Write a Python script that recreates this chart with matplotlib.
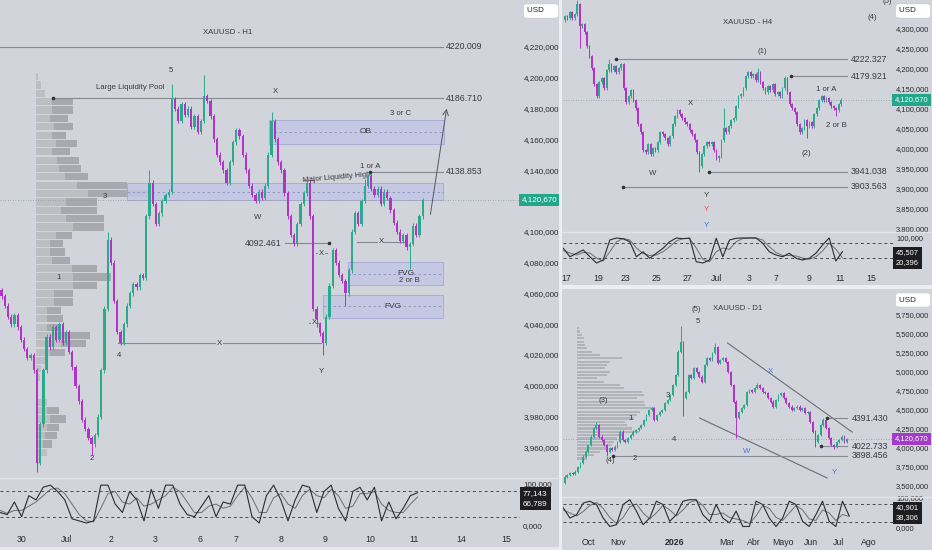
#!/usr/bin/env python3
# XAUUSD multi timeframe snapshot (H1 / H4 / D1)

import numpy as np
import matplotlib.pyplot as plt
from matplotlib.patches import Rectangle

W, H = 932, 550
BG = '#d1d4da'
BULL = '#2aa98c'
BEAR = '#b034c8'
INK = '#3a3a3e'
LINE = '#858a90'

plt.rcParams['font.family'] = ['Liberation Sans', 'DejaVu Sans']

# ---------------- data ----------------
last_price = 4120.67

# H1 closes
h1_close = [4058, 4052, 4045, 4040, 4046, 4038, 4030, 4024, 4018, 4020,
            4010, 3950, 3975, 4010, 4032, 4025, 4038, 4030, 4040, 4028,
            4035, 4022, 4012, 4000, 3990, 3978, 3972, 3966, 3962, 3968,
            3980, 4010, 4050, 4095, 4080, 4055, 4035, 4028, 4040, 4052,
            4060, 4066, 4064, 4072, 4070, 4110, 4132, 4118, 4105, 4112,
            4120, 4124, 4126, 4186, 4180, 4172, 4183, 4176, 4180, 4168,
            4175, 4165, 4172, 4188, 4185, 4175, 4160, 4150, 4145, 4140,
            4132, 4145, 4158, 4166, 4162, 4150, 4140, 4130, 4124, 4120,
            4126, 4122, 4130, 4150, 4172, 4160, 4145, 4140, 4125, 4110,
            4098, 4092, 4105, 4118, 4125, 4132, 4110, 4050, 4040, 4034,
            4028, 4045, 4065, 4088, 4080, 4072, 4068, 4060, 4075, 4100,
            4112, 4105, 4120, 4130, 4136, 4128, 4124, 4128, 4118, 4126,
            4122, 4114, 4106, 4100, 4094, 4098, 4090, 4092, 4104, 4098,
            4110, 4120.67]
h1_first_open = 4062
h1_highs = {33: 4100, 46: 4140, 53: 4196, 63: 4202, 84: 4178, 113: 4134}
h1_lows = {11: 3944, 28: 3955, 100: 4020, 107: 4052, 127: 4076}

# H1 volume profile: total row length and light part (px)
h1_vp_total = [2, 5, 9, 37, 37, 32, 37, 30, 41, 34, 43, 45, 52, 91, 112, 61,
               61, 68, 68, 36, 27, 29, 34, 61, 75, 61, 37, 37, 25, 27, 25, 54,
               50, 29, 11, 5, 4, 2, 2, 11, 23, 30, 23, 21, 16, 11, 4]
h1_vp_light = [2, 5, 9, 16, 16, 14, 18, 16, 20, 16, 21, 23, 29, 41, 52, 30,
               25, 30, 37, 20, 14, 14, 16, 36, 37, 37, 18, 18, 11, 11, 11, 27,
               25, 14, 11, 5, 4, 2, 2, 11, 11, 14, 11, 9, 7, 11, 4]

h1_stoch_k = [30, 25, 55, 20, 70, 60, 90, 95, 80, 60, 15, 10, 5, 10, 95, 95, 50, 30, 80, 60,
              10, 85, 40, 95, 95, 50, 25, 20, 45, 70, 20, 55, 50, 95, 95, 20, 5, 70, 95, 60,
              10, 60, 95, 90, 30, 80, 95, 40, 10, 80, 90, 60, 90, 10, 55, 15, 40, 70, 77.143]
h1_stoch_d = [35, 28, 35, 35, 45, 55, 70, 85, 88, 75, 50, 25, 10, 8, 40, 75, 80, 55, 50, 65,
              45, 50, 60, 70, 90, 80, 55, 30, 30, 45, 50, 40, 45, 70, 90, 65, 30, 30, 65, 75,
              50, 40, 70, 85, 70, 65, 85, 70, 40, 45, 75, 75, 80, 50, 35, 30, 30, 50, 66.789]

h1_price_ticks = [4220, 4200, 4180, 4160, 4140, 4100, 4080, 4060, 4040, 4020, 4000, 3980, 3960]
h1_dates = ['30', 'Jul', '2', '3', '6', '7', '8', '9', '10', '11', '14', '15']
h1_levels = [4220.009, 4186.710, 4138.853]

# H4
h4_close = [4330, 4325, 4340, 4325, 4335, 4360, 4305, 4310, 4290, 4255,
            4230, 4200, 4160, 4130, 4165, 4175, 4150, 4195, 4210, 4195,
            4205, 4190, 4200, 4210, 4150, 4115, 4130, 4145, 4120, 4100,
            4060, 4040, 3995, 3990, 4010, 3985, 4000, 3995, 4015, 4040,
            4035, 4025, 4010, 4030, 4060, 4080, 4095, 4085, 4075, 4065,
            4060, 4045, 4035, 4020, 3990, 3955, 3985, 4005, 4015, 4010,
            4015, 3995, 3975, 3980, 4020, 4050, 4040, 4055, 4070, 4075,
            4105, 4130, 4135, 4150, 4180, 4190, 4180, 4185, 4170, 4190,
            4165, 4150, 4140, 4155, 4145, 4160, 4135, 4140, 4130, 4150,
            4175, 4140, 4110, 4100, 4090, 4060, 4040, 4050, 4070, 4055,
            4065, 4055, 4085, 4100, 4120, 4130, 4120, 4125, 4115, 4105,
            4100, 4095, 4110, 4120.67]
h4_first_open = 4320
h4_highs = {5: 4372, 18: 4222, 65: 4100, 79: 4200, 90: 4180}
h4_lows = {6: 4250, 55: 3941, 63: 3965, 99: 4025, 111: 4080}

h4_stoch_k = [59, 25, 39, 52, 25, 0, 12, 92, 100, 97, 85, 25, 45, 19, 39, 59, 85, 100, 97, 100,
              5, 0, 12, 99, 25, 92, 99, 100, 100, 100, 79, 45, 32, 25, 39, 19, 12, 19, 39, 72,
              100, 8, 45.507]
h4_stoch_d = [50, 40, 32, 42, 40, 20, 8, 45, 85, 98, 92, 60, 38, 30, 32, 45, 65, 88, 98, 98,
              60, 15, 5, 45, 60, 55, 85, 98, 100, 100, 92, 65, 42, 30, 30, 28, 20, 15, 25, 48,
              80, 55, 20.396]

h4_price_ticks = [4300, 4250, 4200, 4150, 4100, 4050, 4000, 3950, 3900, 3850, 3800]
h4_dates = ['17', '19', '23', '25', '27', 'Jul', '3', '7', '9', '11', '15']
h4_levels = [4222.327, 4179.921, 3941.038, 3903.563]

# D1
d1_close = [3535, 3623, 3645, 3667, 3653, 3689, 3754, 3798, 3886, 3952,
            4040, 4150, 4259, 4303, 4150, 4105, 4040, 3952, 3996, 3974,
            4018, 4083, 4215, 4105, 4083, 4127, 4171, 4215, 4237, 4259,
            4303, 4368, 4434, 4500, 4522, 4368, 4434, 4478, 4500, 4588,
            4632, 4697, 4829, 4961, 5268, 5399, 4653, 4741, 4961, 4917,
            5048, 5004, 4939, 4873, 5092, 5180, 5158, 5246, 5333, 5114,
            5158, 5180, 5136, 5004, 4829, 4610, 4390, 4478, 4522, 4566,
            4741, 4763, 4741, 4785, 4829, 4785, 4741, 4719, 4653, 4610,
            4544, 4632, 4697, 4719, 4653, 4588, 4544, 4500, 4522, 4544,
            4500, 4522, 4456, 4478, 4346, 4215, 4083, 4171, 4303, 4368,
            4259, 4127, 4040, 4018, 4083, 4105, 4150, 4083, 4120.67]
d1_first_open = 3500
d1_highs = {13: 4340, 45: 5600, 58: 5377, 74: 4860, 99: 4391}
d1_lows = {17: 3899, 46: 4420, 66: 4127, 96: 4018, 103: 3985}

d1_vp = [2, 3, 5, 7, 7, 8, 10, 15, 23, 45, 33, 30, 28, 33, 30, 20, 27, 43, 47, 65,
         67, 60, 67, 68, 78, 63, 60, 57, 48, 50, 55, 62, 47, 40, 37, 35, 30, 23, 17, 10]

d1_stoch_k = [67, 33, 44, 83, 89, 78, 33, 5, 11, 78, 94, 56, 11, 33, 89, 78, 22, 44, 89, 94,
              94, 44, 22, 78, 33, 17, 56, 5, 5, 89, 78, 33, 5, 33, 89, 78, 22, 5, 44, 89,
              22, 5, 89, 40.901]
d1_stoch_d = [60, 50, 40, 55, 75, 85, 65, 35, 15, 35, 70, 80, 50, 30, 50, 75, 60, 40, 60, 85,
              92, 75, 45, 45, 50, 35, 30, 25, 15, 40, 75, 65, 35, 25, 50, 75, 60, 30, 25, 60,
              50, 25, 45, 38.306]

d1_price_ticks = [5750, 5500, 5250, 5000, 4750, 4500, 4250, 4000, 3750, 3500]
d1_dates = ['Oct', 'Nov', '2026', 'Mar', 'Abr', 'Mayo', 'Jun', 'Jul', 'Ago']
d1_levels = [3898.456, 4022.733, 4391.430]


fig = plt.figure(figsize=(W / 100, H / 100), dpi=100, facecolor=BG)


def px_axes(x0, y0, x1, y1):
    ax = fig.add_axes([x0 / W, 1 - y1 / H, (x1 - x0) / W, (y1 - y0) / H])
    ax.set_facecolor(BG)
    for s in ax.spines.values():
        s.set_visible(False)
    ax.set_xlim(x0, x1)
    return ax


def fmt_price(v):
    return f"{v:,.3f}".replace('.', ',')


def draw_candles(ax, closes, x0, step, pad, highs, lows, first_open):
    opens = [first_open] + closes[:-1]
    xs = x0 + step * np.arange(len(closes))
    for i, (x, o, c) in enumerate(zip(xs, opens, closes)):
        col = BULL if c >= o else BEAR
        hi = highs.get(i, max(o, c) + pad)
        lo = lows.get(i, min(o, c) - pad)
        ax.vlines(x, lo, hi, color=col, lw=0.7, zorder=4)
        ax.bar(x, max(abs(c - o), pad * 0.6), bottom=min(o, c), width=step * 0.7,
               color=col, zorder=4, linewidth=0)


def price_axis(ax, ticks, pad, size):
    ax.yaxis.tick_right()
    ax.set_yticks(ticks)
    ax.set_yticklabels([fmt_price(v) for v in ticks])
    ax.tick_params(axis='y', length=0, pad=pad, labelsize=size, labelcolor='#2a2a2e')
    ax.set_xticks([])


def last_tag(ax, color, pad, size):
    ax.axhline(last_price, color='#8c9a9a', lw=0.6, ls=(0, (1, 2)), zorder=2)
    ax.annotate(fmt_price(last_price), xy=(1, last_price), xycoords=('axes fraction', 'data'),
                xytext=(pad, 0), textcoords='offset points', ha='left', va='center',
                fontsize=size, color='white', annotation_clip=False, zorder=10,
                bbox=dict(boxstyle='square,pad=0.35', fc=color, ec='none'))


def stoch_pane(ax, k, d, x0, step, ylim, dates, date_pos, shown, val_box, pad, size):
    xs = x0 + step * np.arange(len(k))
    ax.plot(xs, d, color='#6e6e72', lw=0.7)
    ax.plot(xs, k, color='#2c2c30', lw=0.8)
    for lvl in (80, 20):
        ax.axhline(lvl, color='#4a4a4e', lw=0.7, ls=(0, (3, 3)))
    ax.set_ylim(*ylim)
    ax.yaxis.tick_right()
    ax.set_yticks(shown)
    ax.set_yticklabels([fmt_price(v) for v in shown])
    ax.tick_params(axis='y', length=0, pad=pad, labelsize=size, labelcolor='#2a2a2e')
    ax.set_xticks(date_pos)
    ax.set_xticklabels(dates)
    ax.tick_params(axis='x', length=0, pad=3, labelsize=6.3, labelcolor='#2a2a2e')
    ax.annotate(fmt_price(k[-1]) + '\n' + fmt_price(d[-1]), xy=(1, val_box),
                xycoords=('axes fraction', 'data'), xytext=(pad, 0), textcoords='offset points',
                ha='left', va='center', fontsize=size, color='white', linespacing=1.6,
                annotation_clip=False, zorder=10,
                bbox=dict(boxstyle='square,pad=0.35', fc='#1e1e22', ec='none'))


def level(ax, x_start, y, x_end, label=None, dot=True, lx=None):
    ax.plot([x_start, x_end], [y, y], color=LINE, lw=0.8, zorder=3)
    if dot:
        ax.plot(x_start, y, 'o', ms=1.6, color='#333', zorder=5)
    if label:
        ax.text(lx, y, label, fontsize=6.3, color=INK, va='center', ha='left', zorder=5)


def zone(ax, x0, y0, x1, y1, label=None):
    ax.add_patch(Rectangle((x0, y0), x1 - x0, y1 - y0, fc='#c3c6e4', ec='#a3a7d4',
                           lw=0.7, alpha=0.85, zorder=2))
    ym = (y0 + y1) / 2
    ax.plot([x0, x1], [ym, ym], color='#8e93bf', lw=0.6, ls=(0, (3, 3)), zorder=3)
    if label:
        ax.text((x0 + x1) / 2 + 10, ym, label, fontsize=6, color=INK, ha='center',
                va='center', zorder=5)


def wave_text(ax, x, y, s, color=INK, size=5.6, **kw):
    ax.text(x, y, s, fontsize=size, color=color, ha='center', va='center', zorder=6, **kw)


def usd_box(x, y):
    fig.text(x / W, 1 - y / H, 'USD     ', fontsize=5.8, color='#222', ha='left', va='center',
             bbox=dict(boxstyle='round,pad=0.45', fc='white', ec='#c8cad0', lw=0.5))


def crossed(ax, x0, x1, y, s='X'):
    ax.plot([x0, x1], [y, y], color=LINE, lw=0.8, zorder=3)
    ax.text((x0 + x1) / 2, y, s, fontsize=5.6, color=INK, ha='center', va='center', zorder=6,
            bbox=dict(boxstyle='square,pad=0.1', fc=BG, ec='none'))


# ---------------- H1 (left) ----------------
ax1 = px_axes(0, 0, 520, 477)
ax1.set_ylim(3940.8, 4250.5)
price_axis(ax1, h1_price_ticks, pad=3, size=5.8)

rows = 4200.7 - 5.42 * np.arange(len(h1_vp_total))
ax1.barh(rows, h1_vp_total, left=35.7, height=4.7, color='#a8a9ae', zorder=1)
ax1.barh(rows, h1_vp_light, left=35.7, height=4.7, color='#bdbec2', zorder=1)

zone(ax1, 268.6, 4157, 443.6, 4172.6, 'OB')
zone(ax1, 127, 4120.6, 443, 4131.7)
zone(ax1, 348, 4065.4, 443, 4080.4, 'FVG')
zone(ax1, 323, 4044, 443, 4059, 'FVG')

level(ax1, 0, h1_levels[0], 443, '4220.009', dot=False, lx=446)
level(ax1, 53, h1_levels[1], 443, '4186.710', lx=446)
level(ax1, 370, h1_levels[2], 443, '4138.853', lx=446)
level(ax1, 329, 4092.461, 285)
ax1.text(282, 4092.461, '4092.461', fontsize=6.3, color=INK, ha='right', va='center')
ax1.plot([303, 314], [4133.6, 4133.6], color=LINE, lw=0.8)
crossed(ax1, 316, 327, 4086.2)
crossed(ax1, 357, 405, 4093.4)
crossed(ax1, 309, 319, 4040.8)
crossed(ax1, 118, 321, 4027.8)

draw_candles(ax1, h1_close, 1.6, 3.214, 1.5, h1_highs, h1_lows, h1_first_open)
last_tag(ax1, '#22a78b', pad=1.5, size=5.8)

for x, y, s in [(228, 4229.1, 'XAUUSD - H1'), (130, 4193.4, 'Large Liquidity Pool'),
                (275, 4190.8, 'X'), (171, 4205, '5'), (401, 4177.1, '3 or C'),
                (370, 4142.7, '1 or A'), (258, 4109.6, 'W'), (409, 4068.3, '2 or B'),
                (118.6, 4020, '4'), (321, 4009, 'Y'), (92, 3953, '2'), (59, 4070.6, '1'),
                (105, 4122.6, '3')]:
    wave_text(ax1, x, y, s)
wave_text(ax1, 337, 4135.5, 'Major Liquidity High', rotation=5)
ax1.annotate('', xy=(447, 4181.7), xytext=(430, 4109.6),
             arrowprops=dict(arrowstyle='->', color='#55585e', lw=0.7), zorder=6)

ax1s = px_axes(0, 478, 520, 531)
stoch_pane(ax1s, h1_stoch_k, h1_stoch_d, 0, 7.2, (-14, 112), h1_dates,
           [22, 67, 111, 155, 200, 236, 281, 325, 370, 414, 461, 506], [0, 100], 63,
           pad=2.2, size=5.8)

# ---------------- H4 (top right) ----------------
ax2 = px_axes(563, 0, 894, 231)
ax2.set_xlim(563, 895)
ax2.set_ylim(3793, 4370.75)
price_axis(ax2, h4_price_ticks, pad=1.5, size=5.4)
for x0, y in zip([616, 792, 709, 623], h4_levels):
    level(ax2, x0, y, 848, f"{y:.3f}", lx=852)
draw_candles(ax2, h4_close, 565, 2.451, 4, h4_highs, h4_lows, h4_first_open)
last_tag(ax2, '#22a78b', pad=0.8, size=5.4)
for x, y, s, c in [(748, 4314, 'XAUUSD - H4', INK), (873, 4326, '(4)', INK),
                   (888, 4366, '(5)', INK), (763, 4241, '(1)', INK), (827, 4148, '1 or A', INK),
                   (691, 4113, 'X', INK), (837, 4056, '2 or B', INK), (807, 3986, '(2)', INK),
                   (653, 3938, 'W', INK), (707, 3883, 'Y', INK), (707, 3846, 'Y', '#e0505a'),
                   (707, 3806, 'Y', '#4a70d4')]:
    wave_text(ax2, x, y, s, color=c)

ax2s = px_axes(563, 232, 894, 270)
ax2s.set_xlim(563, 895)
stoch_pane(ax2s, h4_stoch_k, h4_stoch_d, 563.3, 6.667, (-28, 124), h4_dates,
           [566, 598, 626, 657, 688, 717, 750, 777, 810, 841, 872], [100], 20,
           pad=1.5, size=5.4)

# ---------------- D1 (bottom right) ----------------
ax3 = px_axes(563, 290, 894, 496)
ax3.set_xlim(563, 895)
ax3.set_ylim(3368, 6079)
price_axis(ax3, d1_price_ticks, pad=1.5, size=5.4)
vp_rows = 5575 - 43.9 * np.arange(len(d1_vp))
ax3.barh(vp_rows, d1_vp, left=577, height=30, color='#b3b4b8', zorder=1)
ax3.plot([728, 853], [5382, 4210], color='#6c7076', lw=0.8, zorder=3)
ax3.plot([700, 828], [4394, 3605], color='#6c7076', lw=0.8, zorder=3)
level(ax3, 613, d1_levels[0], 848, '3898.456', lx=853)
level(ax3, 822, d1_levels[1], 848, '4022.733', lx=853)
level(ax3, 828, d1_levels[2], 848, '4391.430', lx=853)
draw_candles(ax3, d1_close, 562, 2.648, 15, d1_highs, d1_lows, d1_first_open)
last_tag(ax3, '#a23cc6', pad=0.8, size=5.4)
for x, y, s, c in [(738, 5842, 'XAUUSD - D1', INK), (697, 5816, '(5)', INK),
                   (698, 5671, '5', INK), (603, 4631, '(3)', INK), (668, 4697, '3', INK),
                   (631, 4394, '1', INK), (674, 4118, '4', INK), (610, 3829, '(4)', INK),
                   (635, 3868, '2', INK), (747, 3960, 'W', '#4a70d4'),
                   (771, 5000, 'X', '#4a70d4'), (835, 3671, 'Y', '#4a70d4')]:
    wave_text(ax3, x, y, s, color=c)

ax3s = px_axes(563, 497, 894, 534)
ax3s.set_xlim(563, 895)
stoch_pane(ax3s, d1_stoch_k, d1_stoch_d, 563.3, 6.667, (-20, 103), d1_dates,
           [588, 618, 675, 727, 754, 784, 812, 839, 870], [0, 100], 50,
           pad=1.5, size=5.4)
ax3s.get_xticklabels()[2].set_fontweight('bold')

# ---------------- frame / separators ----------------
fig.add_artist(Rectangle((559 / W, 0), 3 / W, 1, transform=fig.transFigure,
                         fc='#eceef2', ec='none'))
fig.add_artist(Rectangle((562 / W, 1 - 289 / H), (W - 562) / W, 4 / H,
                         transform=fig.transFigure, fc='#eceef2', ec='none'))
fig.add_artist(Rectangle((0, 0), 559 / W, 3 / H, transform=fig.transFigure,
                         fc='#e6e8ec', ec='none'))
for x0, x1, y in [(0, 559, 477.5), (562, W, 231.5), (562, W, 496.5)]:
    fig.add_artist(plt.Line2D([x0 / W, x1 / W], [1 - y / H] * 2, transform=fig.transFigure,
                              color='#e2e4e9', lw=1))

usd_box(527, 11)
usd_box(899, 11)
usd_box(899, 300)

fig.savefig('out.png', dpi=100, facecolor=BG)
